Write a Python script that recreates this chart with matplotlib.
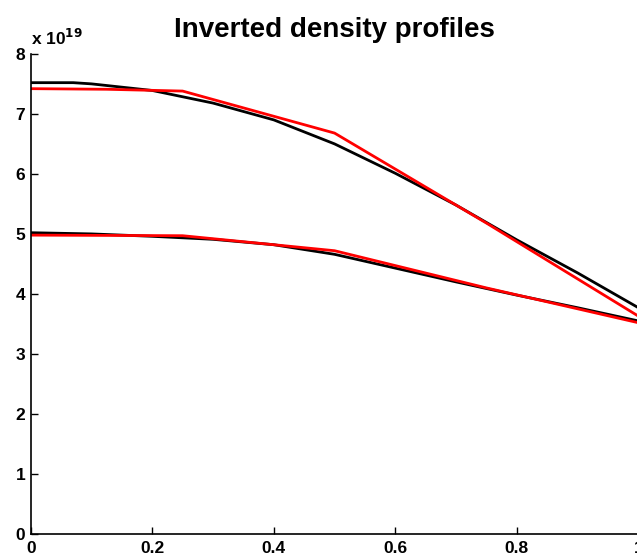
import matplotlib
matplotlib.use("Agg")
from matplotlib import pyplot as plt

plt.rcParams['font.family'] = ['Liberation Sans', 'DejaVu Sans']
plt.rcParams['font.weight'] = 'bold'

# top profile (units of 1e19)
x_top_fit = [0, 0.07, 0.1, 0.2, 0.3, 0.4, 0.5, 0.6, 0.7, 0.8, 0.9, 1.0]
top_fit = [7.52, 7.52, 7.50, 7.39, 7.18, 6.90, 6.50, 6.01, 5.48, 4.90, 4.35, 3.77]
x_top_inv = [0, 0.125, 0.25, 0.5, 0.75, 1.0]
top_inv = [7.42, 7.41, 7.38, 6.68, 5.18, 3.63]

# bottom profile
x_bot_fit = [0, 0.1, 0.2, 0.3, 0.4, 0.5, 0.6, 0.7, 0.8, 0.9, 1.0]
bot_fit = [5.02, 5.00, 4.96, 4.91, 4.82, 4.66, 4.43, 4.20, 3.98, 3.77, 3.55]
x_bot_inv = [0, 0.25, 0.5, 0.75, 1.0]
bot_inv = [4.98, 4.97, 4.72, 4.10, 3.52]

fig = plt.figure(figsize=(6.37, 5.57), dpi=100)
ax = fig.add_axes([0.0482, 0.0413, 0.954, 0.862])

ax.plot(x_top_fit, top_fit, color='black', lw=2)
ax.plot(x_top_inv, top_inv, color='red', lw=2)
ax.plot(x_bot_fit, bot_fit, color='black', lw=2)
ax.plot(x_bot_inv, bot_inv, color='red', lw=2)

ax.set_xlim(0, 1)
ax.set_ylim(0, 8)
ax.set_xticks([0, 0.2, 0.4, 0.6, 0.8, 1])
ax.set_xticklabels(['0', '0.2', '0.4', '0.6', '0.8', '1'])
ax.set_yticks(range(0, 9))
ax.tick_params(direction='in', length=5, labelsize=12.5, width=1)
ax.tick_params(axis='x', pad=5)
ax.tick_params(axis='y', pad=4)
ax.spines['top'].set_visible(False)
for s in ax.spines.values():
    s.set_linewidth(1.2)

ax.text(0, 1.012, r'x 10$^{19}$', transform=ax.transAxes, fontsize=12.5,
        ha='left', va='bottom')
ax.set_title('Inverted density profiles', fontsize=20, fontweight='bold', pad=12)

plt.savefig("out.png", dpi=100)
